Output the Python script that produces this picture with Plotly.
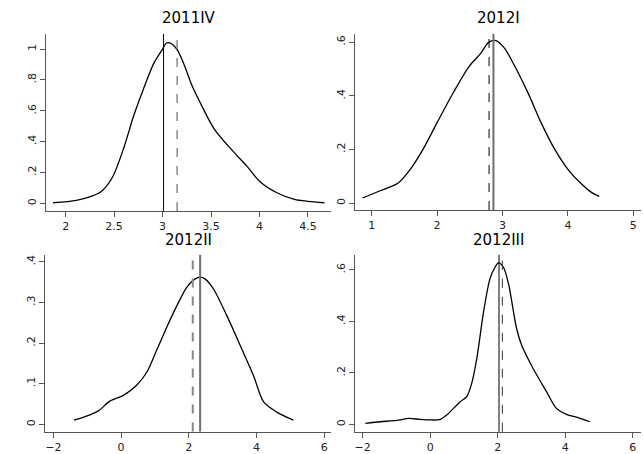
import plotly.graph_objects as go

W, H = 643, 454

titles = ["2011IV", "2012I", "2012II", "2012III"]

x_2011IV = [1.87, 2.11, 2.27, 2.36, 2.48, 2.60, 2.70, 2.80, 2.91, 3.00, 3.04, 3.08, 3.15, 3.23, 3.30, 3.39, 3.53, 3.73, 3.87, 4.00, 4.18, 4.36, 4.50, 4.67]
y_2011IV = [0.004, 0.020, 0.047, 0.073, 0.166, 0.360, 0.565, 0.737, 0.909, 1.000, 1.040, 1.039, 0.996, 0.888, 0.769, 0.651, 0.485, 0.335, 0.241, 0.144, 0.069, 0.026, 0.013, 0.004]

x_2012I = [0.86, 1.13, 1.40, 1.59, 1.80, 2.00, 2.26, 2.49, 2.67, 2.79, 2.90, 3.03, 3.15, 3.39, 3.59, 3.80, 4.00, 4.21, 4.36, 4.48]
y_2012I = [0.019, 0.046, 0.074, 0.126, 0.207, 0.300, 0.417, 0.510, 0.559, 0.600, 0.606, 0.578, 0.528, 0.411, 0.300, 0.200, 0.126, 0.071, 0.040, 0.025]

x_2012II = [-1.39, -1.02, -0.67, -0.33, 0.07, 0.46, 0.76, 1.05, 1.35, 1.65, 1.94, 2.19, 2.34, 2.48, 2.73, 3.12, 3.52, 3.91, 4.21, 4.60, 5.09]
y_2012II = [0.010, 0.020, 0.033, 0.057, 0.071, 0.096, 0.128, 0.182, 0.239, 0.292, 0.337, 0.358, 0.362, 0.358, 0.333, 0.268, 0.194, 0.120, 0.055, 0.030, 0.010]

x_2012III = [-1.92, -1.48, -0.99, -0.64, -0.30, 0.00, 0.30, 0.49, 0.89, 1.08, 1.23, 1.38, 1.58, 1.77, 1.92, 2.02, 2.17, 2.32, 2.56, 2.71, 3.05, 3.45, 3.74, 4.04, 4.38, 4.73]
y_2012III = [0.004, 0.010, 0.015, 0.023, 0.019, 0.017, 0.019, 0.036, 0.088, 0.107, 0.159, 0.255, 0.436, 0.565, 0.610, 0.627, 0.610, 0.546, 0.372, 0.307, 0.217, 0.126, 0.062, 0.039, 0.026, 0.010]

solid_lines = [3.01, 2.862, 2.335, 2.039]
dashed_lines = [3.15, 2.795, 2.118, 2.138]

xtick_vals = [[2, 2.5, 3, 3.5, 4, 4.5], [1, 2, 3, 4, 5], [-2, 0, 2, 4, 6], [-2, 0, 2, 4, 6]]
xtick_text = [["2", "2.5", "3", "3.5", "4", "4.5"], ["1", "2", "3", "4", "5"], ["−2", "0", "2", "4", "6"], ["−2", "0", "2", "4", "6"]]
ytick_vals = [[0, 0.2, 0.4, 0.6, 0.8, 1], [0, 0.2, 0.4, 0.6], [0, 0.1, 0.2, 0.3, 0.4], [0, 0.2, 0.4, 0.6]]
ytick_text = [["0", ".2", ".4", ".6", ".8", "1"], ["0", ".2", ".4", ".6"], ["0", ".1", ".2", ".3", ".4"], ["0", ".2", ".4", ".6"]]

xs = [x_2011IV, x_2012I, x_2012II, x_2012III]
ys = [y_2011IV, y_2012I, y_2012II, y_2012III]

# layout (pixel boxes) and ranges
px_x = [(46, 331), (355, 641), (45, 331), (355, 641)]
px_y = [(34, 212), (34, 211), (256, 433.5), (256, 433.7)]
xranges = [[1.797, 4.738], [0.745, 5.118], [-2.245, 6.2], [-2.228, 6.246]]
yranges = [[-0.05, 1.099], [-0.026, 0.631], [-0.018, 0.417], [-0.029, 0.658]]
title_px = [(188.5, 18), (498, 18), (188, 241), (498, 241)]

solid_style = [dict(color="black", width=1), dict(color="#6e6e6e", width=2),
               dict(color="#6e6e6e", width=2), dict(color="black", width=1)]
dashed_style = [dict(color="#777777", width=1.3, dash="dash"), dict(color="black", width=1, dash="dash"),
                dict(color="#888888", width=2, dash="dash"), dict(color="#333333", width=1, dash="dash")]

fig = go.Figure()
layout = dict(width=W, height=H, margin=dict(l=0, r=0, t=0, b=0),
              paper_bgcolor="white", plot_bgcolor="white", showlegend=False,
              font=dict(family="DejaVu Sans", size=11, color="#222222"))
shapes = []
annotations = []
for i in range(4):
    n = "" if i == 0 else str(i + 1)
    fig.add_trace(go.Scatter(x=xs[i], y=ys[i], mode="lines",
                             line=dict(color="black", width=1.3, shape="spline", smoothing=0.8),
                             xaxis="x" + n, yaxis="y" + n, hoverinfo="skip"))
    ax = dict(domain=[px_x[i][0] / W, px_x[i][1] / W], range=xranges[i], anchor="y" + n,
              showline=True, linecolor="#555555", linewidth=1, ticks="outside", ticklen=5,
              tickcolor="#555555", showgrid=False, zeroline=False,
              tickvals=xtick_vals[i], ticktext=xtick_text[i], tickfont=dict(size=11, color="#222222"))
    ay = dict(domain=[1 - px_y[i][1] / H, 1 - px_y[i][0] / H], range=yranges[i], anchor="x" + n,
              showline=True, linecolor="#555555", linewidth=1, ticks="outside", ticklen=5,
              tickcolor="#555555", showgrid=False, zeroline=False, tickangle=-90,
              tickvals=ytick_vals[i], ticktext=ytick_text[i], tickfont=dict(size=11, color="#222222"))
    layout["xaxis" + n] = ax
    layout["yaxis" + n] = ay
    xr = "x" + n
    yr = "y" + n + " domain"
    shapes.append(dict(type="line", xref=xr, yref=yr, x0=solid_lines[i], x1=solid_lines[i], y0=0, y1=1,
                       line=solid_style[i]))
    shapes.append(dict(type="line", xref=xr, yref=yr, x0=dashed_lines[i], x1=dashed_lines[i], y0=0, y1=1,
                       line=dashed_style[i]))
    annotations.append(dict(text=titles[i], xref="paper", yref="paper", x=title_px[i][0] / W,
                            y=1 - title_px[i][1] / H, xanchor="center", yanchor="middle", showarrow=False,
                            font=dict(size=15, color="black", family="DejaVu Sans")))

layout["shapes"] = shapes
layout["annotations"] = annotations
fig.update_layout(**layout)
fig.write_html("out.html", config={"displayModeBar": False},
               post_script="document.body.style.margin='0px';document.body.style.overflow='hidden';")
